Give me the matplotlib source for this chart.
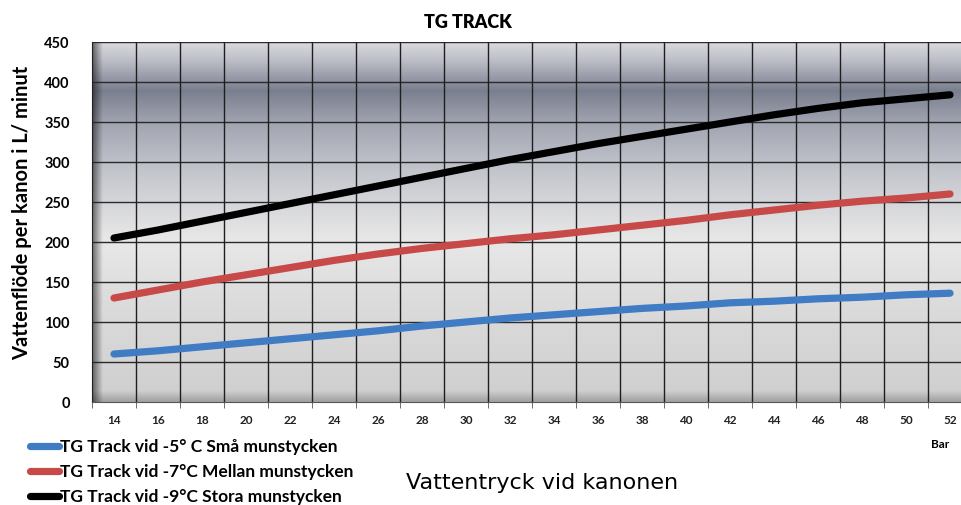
import matplotlib.pyplot as plt
import numpy as np
from matplotlib.colors import LinearSegmentedColormap

pressure = [14, 16, 18, 20, 22, 24, 26, 28, 30, 32, 34, 36, 38, 40, 42, 44, 46, 48, 50, 52]
small = [60, 64, 69, 74, 79, 84, 89, 95, 100, 105, 109, 113, 117, 120, 124, 126, 129, 131, 134, 136]
medium = [130, 140, 150, 159, 168, 177, 185, 192, 198, 204, 209, 215, 221, 227, 234, 240, 246, 251, 255, 260]
large = [205, 215, 226, 237, 248, 259, 270, 281, 292, 303, 313, 323, 332, 341, 350, 359, 367, 374, 379, 384]

labels = [
    "TG Track vid -5° C Små munstycken",
    "TG Track vid -7°C Mellan munstycken",
    "TG Track vid -9°C Stora munstycken",
]
colors = ["#3f7cc4", "#c84a48", "#000000"]

FONT = "Lato"

fig = plt.figure(figsize=(9.62, 5.05), dpi=100)
ax = fig.add_axes([92 / 962, 1 - 402 / 505, 880 / 962, 360 / 505])

# background gradient (bottom -> top)
stops = [
    (0.00, "#a4a4a4"),
    (0.03, "#d0d0d0"),
    (0.28, "#dcdcdc"),
    (0.45, "#e8e8e8"),
    (0.56, "#d4d5d9"),
    (0.67, "#bdc0c8"),
    (0.78, "#a0a4b0"),
    (0.867, "#7a7f8f"),
    (0.95, "#bbbdc6"),
    (1.00, "#d8d9dd"),
]
cmap = LinearSegmentedColormap.from_list("bg", stops)
grad = np.linspace(0, 1, 400).reshape(-1, 1)
ax.imshow(grad, cmap=cmap, aspect="auto", extent=[0, 1, 0, 1],
          transform=ax.transAxes, origin="lower", zorder=0)
# left edge shadow
shade = np.linspace(0.55, 0, 50).reshape(1, -1)
ax.imshow(np.zeros((1, 50)), cmap="gray", alpha=shade, aspect="auto",
          extent=[0, 0.012, 0, 1], transform=ax.transAxes, zorder=0.5)

x = np.arange(len(pressure))
for ys, c in zip([small, medium, large], colors):
    ax.plot(x, ys, color=c, lw=5.2, solid_capstyle="round", zorder=3)

ax.set_xlim(-0.5, len(pressure) - 0.5)
ax.set_ylim(0, 450)
ax.set_yticks(np.arange(0, 451, 50))
ax.set_xticks(x)
ax.set_xticklabels(pressure)
ax.set_xticks(np.arange(-0.5, len(pressure)), minor=True)

ax.grid(False)
for v in np.arange(50, 451, 50):
    ax.axhline(v, color="#2a2a2a", lw=1.0, zorder=1)
for v in np.arange(0.5, len(pressure) - 0.5):
    ax.axvline(v, color="#1e1e1e", lw=1.0, zorder=1)

ax.tick_params(axis="x", which="major", length=0, pad=9, labelsize=8.5, colors="#222222")
ax.tick_params(axis="x", which="minor", length=4, color="#555555")
ax.tick_params(axis="y", length=0, pad=16, labelsize=10.5)
for t in ax.get_xticklabels() + ax.get_yticklabels():
    t.set_fontweight("bold")
    t.set_family(FONT)

for s in ["top", "right"]:
    ax.spines[s].set_visible(False)
ax.spines["left"].set_color("#222222")
ax.spines["bottom"].set_color("#555555")

fig.text(468 / 962, 1 - 22 / 505, "TG TRACK", ha="center", va="center",
         fontsize=13, fontweight="heavy", family=FONT)
fig.text(22 / 962, 1 - 213 / 505, "Vattenflöde per kanon i L/ minut", rotation=90,
         ha="center", va="center", fontsize=14.5, fontweight="bold", family=FONT)
fig.text(542 / 962, 1 - 483 / 505, "Vattentryck vid kanonen", ha="center", va="center",
         fontsize=16, family="DejaVu Sans")
fig.text(940 / 962, 1 - 445 / 505, "Bar", ha="center", va="center",
         fontsize=8.5, fontweight="bold", family=FONT)

handles = [plt.Line2D([], [], color=c, lw=5.2, solid_capstyle="round") for c in colors]
leg = fig.legend(handles, labels, loc="upper left", bbox_to_anchor=(30 / 962, 1 - 439 / 505),
                 frameon=False, handlelength=1.65, handletextpad=0.1, labelspacing=0.52,
                 borderaxespad=0, borderpad=0,
                 prop={"family": FONT, "size": 12.5, "weight": "bold"})

fig.savefig("out.png", dpi=100)
